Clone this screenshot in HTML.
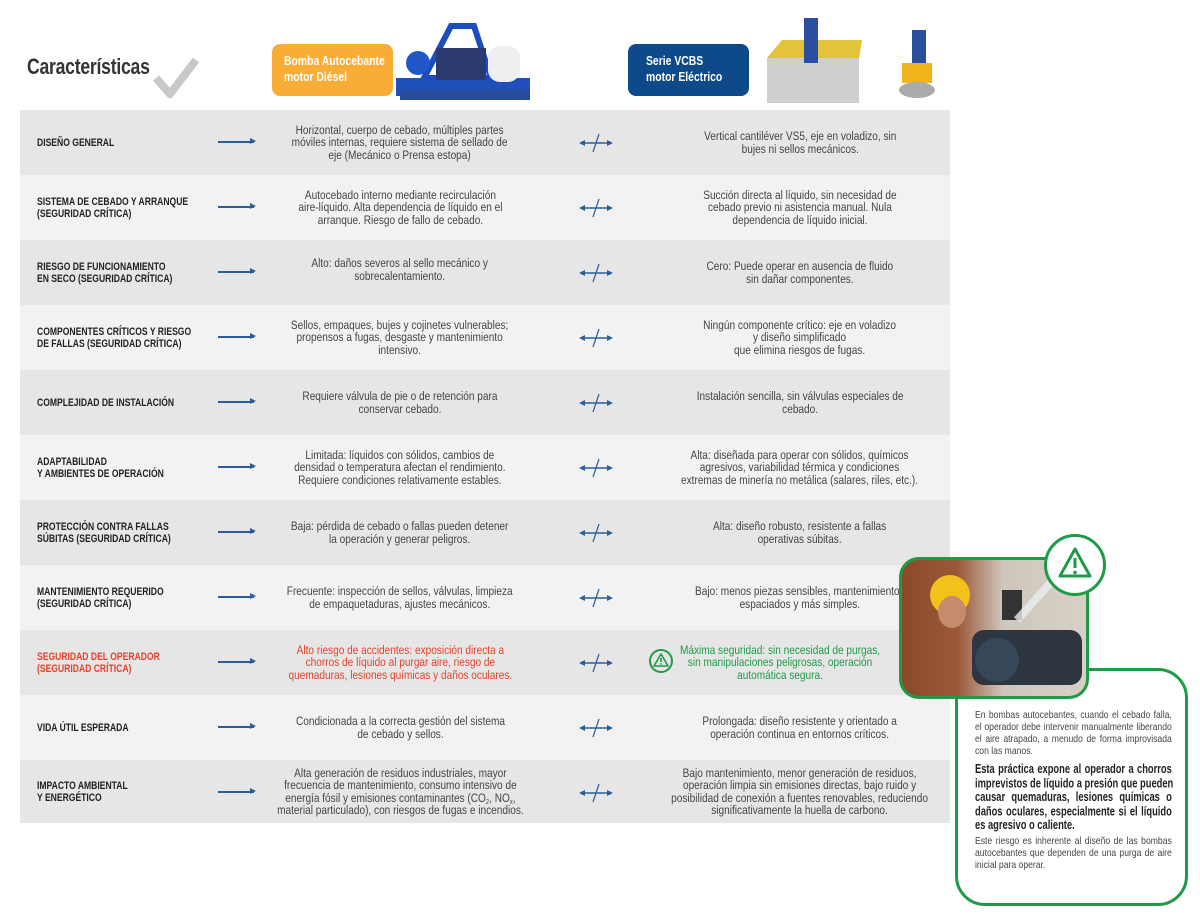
<!DOCTYPE html>
<html><head><meta charset="utf-8"><style>
*{margin:0;padding:0;box-sizing:border-box}
body{width:1200px;height:915px;background:#fff;position:relative;overflow:hidden;font-family:"Liberation Sans",sans-serif;color:#333}
.row{position:absolute;left:20px;width:930px;height:65px}
.g{background:#e6e6e6}.l{background:#f2f2f2}
.lab{position:absolute;left:17px;top:0;height:100%;display:flex;align-items:center}
.lab .t{font-size:11px;font-weight:bold;color:#222;line-height:12px;text-transform:uppercase;white-space:nowrap;transform:scaleX(.78);transform-origin:left center}
.arr{position:absolute;left:198px;top:31px;width:36px;height:1.5px;background:#2a5d9a}
.arr:after{content:"";position:absolute;right:-2px;top:-3px;border-left:6px solid #2a5d9a;border-top:3.5px solid transparent;border-bottom:3.5px solid transparent}
.c1,.c2{position:absolute;top:0;height:100%;display:flex;align-items:center;justify-content:center}
.c1 .t,.c2 .t{text-align:center;font-size:12.3px;line-height:12.5px;color:#444;white-space:nowrap;transform:scaleX(.82)}
.c1{left:255px;width:250px}.c2{left:630px;width:300px}
.ne{position:absolute;left:558px;top:22px}
.red .t,.red{color:#e0432a !important}.grn .t{color:#1f9a47 !important}
sub{font-size:7px;line-height:0;vertical-align:-2px}
.co{position:absolute;left:975px;top:709px;width:240px;transform:scaleX(.82);transform-origin:left top;color:#444}
.co .j{text-align:justify;text-align-last:justify;white-space:nowrap}
.co .n{font-size:10.5px;line-height:12px}
.co .b{font-size:11.4px;line-height:12.5px;font-weight:bold;color:#222;transform:scaleY(1.12);transform-origin:left top}
</style></head><body>

<div style="position:absolute;left:27px;top:54px;font-size:22px;font-weight:bold;color:#333;white-space:nowrap;transform:scaleX(.8);transform-origin:left top;letter-spacing:-0.3px">Características</div>
<svg style="position:absolute;left:152px;top:56px" width="48" height="42"><path d="M4 22 L18 38 L44 4" stroke="#c8c8c8" stroke-width="8" fill="none"/></svg>

<div style="position:absolute;left:272px;top:44px;width:121px;height:52px;background:#f9ad37;border-radius:8px"></div>
<div style="position:absolute;left:284px;top:53px;color:#fff;font-weight:bold;font-size:13px;line-height:16px;white-space:nowrap;transform:scaleX(.8);transform-origin:left top">Bomba Autocebante<br>motor Diésel</div>
<svg style="position:absolute;left:396px;top:18px" width="140" height="95">
<rect x="0" y="60" width="134" height="18" fill="#1f4fb8"/><rect x="4" y="72" width="130" height="10" fill="#274a9a"/>
<path d="M28 60 L55 8 L78 8 L95 60 Z" fill="none" stroke="#1d4cc0" stroke-width="6"/>
<rect x="40" y="30" width="50" height="32" fill="#2a3a70"/><rect x="92" y="28" width="32" height="36" rx="12" fill="#eee"/>
<circle cx="22" cy="45" r="12" fill="#2257c9"/></svg>

<div style="position:absolute;left:628px;top:44px;width:121px;height:52px;background:#0e4a8a;border-radius:8px"></div>
<div style="position:absolute;left:646px;top:53px;color:#fff;font-weight:bold;font-size:13px;line-height:16px;white-space:nowrap;transform:scaleX(.8);transform-origin:left top">Serie VCBS<br>motor Eléctrico</div>
<svg style="position:absolute;left:762px;top:18px" width="180" height="90">
<rect x="5" y="40" width="92" height="45" fill="#cfcfcf"/><path d="M5 40 L20 22 L100 22 L97 40 Z" fill="#e3c33a"/>
<rect x="42" y="0" width="14" height="45" fill="#2a4fa0"/>
<rect x="150" y="12" width="14" height="35" fill="#2a4fa0"/><rect x="140" y="45" width="30" height="20" fill="#f1b51c"/><ellipse cx="155" cy="72" rx="18" ry="8" fill="#aaa"/></svg>

<div class="row g" style="top:110px"><div class="lab"><div class="t">Diseño general</div></div><div class="arr"></div><div class="c1"><div class="t">Horizontal, cuerpo de cebado, múltiples partes<br>móviles internas, requiere sistema de sellado de<br>eje (Mecánico o Prensa estopa)</div></div><div class="ne"></div><div class="c2"><div class="t">Vertical cantiléver VS5, eje en voladizo, sin<br>bujes ni sellos mecánicos.</div></div></div>
<div class="row l" style="top:175px"><div class="lab"><div class="t">Sistema de cebado y arranque<br>(seguridad crítica)</div></div><div class="arr"></div><div class="c1"><div class="t">Autocebado interno mediante recirculación<br>aire-líquido. Alta dependencia de líquido en el<br>arranque. Riesgo de fallo de cebado.</div></div><div class="ne"></div><div class="c2"><div class="t">Succión directa al líquido, sin necesidad de<br>cebado previo ni asistencia manual. Nula<br>dependencia de líquido inicial.</div></div></div>
<div class="row g" style="top:240px"><div class="lab"><div class="t">Riesgo de funcionamiento<br>en seco (seguridad crítica)</div></div><div class="arr"></div><div class="c1" style="align-items:flex-start;padding-top:17px"><div class="t">Alto: daños severos al sello mecánico y<br>sobrecalentamiento.</div></div><div class="ne"></div><div class="c2"><div class="t">Cero: Puede operar en ausencia de fluido<br>sin dañar componentes.</div></div></div>
<div class="row l" style="top:305px"><div class="lab"><div class="t">Componentes críticos y riesgo<br>de fallas (seguridad crítica)</div></div><div class="arr"></div><div class="c1"><div class="t">Sellos, empaques, bujes y cojinetes vulnerables;<br>propensos a fugas, desgaste y mantenimiento<br>intensivo.</div></div><div class="ne"></div><div class="c2"><div class="t">Ningún componente crítico: eje en voladizo<br>y diseño simplificado<br>que elimina riesgos de fugas.</div></div></div>
<div class="row g" style="top:370px"><div class="lab"><div class="t">Complejidad de instalación</div></div><div class="arr"></div><div class="c1"><div class="t">Requiere válvula de pie o de retención para<br>conservar cebado.</div></div><div class="ne"></div><div class="c2"><div class="t">Instalación sencilla, sin válvulas especiales de<br>cebado.</div></div></div>
<div class="row l" style="top:435px"><div class="lab"><div class="t">Adaptabilidad<br>y ambientes de operación</div></div><div class="arr"></div><div class="c1"><div class="t">Limitada: líquidos con sólidos, cambios de<br>densidad o temperatura afectan el rendimiento.<br>Requiere condiciones relativamente estables.</div></div><div class="ne"></div><div class="c2"><div class="t">Alta: diseñada para operar con sólidos, químicos<br>agresivos, variabilidad térmica y condiciones<br>extremas de minería no metálica (salares, riles, etc.).</div></div></div>
<div class="row g" style="top:500px"><div class="lab"><div class="t">Protección contra fallas<br>súbitas (seguridad crítica)</div></div><div class="arr"></div><div class="c1"><div class="t">Baja: pérdida de cebado o fallas pueden detener<br>la operación y generar peligros.</div></div><div class="ne"></div><div class="c2"><div class="t">Alta: diseño robusto, resistente a fallas<br>operativas súbitas.</div></div></div>
<div class="row l" style="top:565px"><div class="lab"><div class="t">Mantenimiento requerido<br>(seguridad crítica)</div></div><div class="arr"></div><div class="c1"><div class="t">Frecuente: inspección de sellos, válvulas, limpieza<br>de empaquetaduras, ajustes mecánicos.</div></div><div class="ne"></div><div class="c2"><div class="t">Bajo: menos piezas sensibles, mantenimientos<br>espaciados y más simples.</div></div></div>
<div class="row g" style="top:630px"><div class="lab"><div class="t red">Seguridad del operador<br>(seguridad crítica)</div></div><div class="arr"></div><div class="c1 red"><div class="t">Alto riesgo de accidentes: exposición directa a<br>chorros de líquido al purgar aire, riesgo de<br>quemaduras, lesiones químicas y daños oculares.</div></div><div class="ne"></div>
<svg style="position:absolute;left:628px;top:18px" width="26" height="26"><circle cx="13" cy="13" r="11" fill="none" stroke="#1f9a47" stroke-width="2"/><path d="M13 6 L20 18 L6 18 Z" fill="none" stroke="#1f9a47" stroke-width="1.6" stroke-linejoin="round"/><line x1="13" y1="10" x2="13" y2="14" stroke="#1f9a47" stroke-width="1.6"/><circle cx="13" cy="16" r="0.9" fill="#1f9a47"/></svg>
<div class="c2 grn" style="left:620px;width:280px"><div class="t">Máxima seguridad: sin necesidad de purgas,<br>sin manipulaciones peligrosas, operación<br>automática segura.</div></div></div>
<div class="row l" style="top:695px"><div class="lab"><div class="t">Vida útil esperada</div></div><div class="arr"></div><div class="c1"><div class="t">Condicionada a la correcta gestión del sistema<br>de cebado y sellos.</div></div><div class="ne"></div><div class="c2"><div class="t">Prolongada: diseño resistente y orientado a<br>operación continua en entornos críticos.</div></div></div>
<div class="row g" style="top:760px;height:63px"><div class="lab"><div class="t">Impacto ambiental<br>y energético</div></div><div class="arr"></div><div class="c1"><div class="t">Alta generación de residuos industriales, mayor<br>frecuencia de mantenimiento, consumo intensivo de<br>energía fósil y emisiones contaminantes (CO<sub>2</sub>, NO<sub>x</sub>,<br>material particulado), con riesgos de fugas e incendios.</div></div><div class="ne"></div><div class="c2"><div class="t">Bajo mantenimiento, menor generación de residuos,<br>operación limpia sin emisiones directas, bajo ruido y<br>posibilidad de conexión a fuentes renovables, reduciendo<br>significativamente la huella de carbono.</div></div></div>

<!-- callout -->
<div style="position:absolute;left:955px;top:668px;width:233px;height:238px;border:3px solid #1f9a47;border-radius:30px;background:#fff"></div>
<div class="co">
<div class="n j">En bombas autocebantes, cuando el cebado falla,</div>
<div class="n j">el operador debe intervenir manualmente liberando</div>
<div class="n j">el aire atrapado, a menudo de forma improvisada</div>
<div class="n">con las manos.</div>
<div style="height:6px"></div>
<div style="height:64px"><div class="b">
<div class="j">Esta práctica expone al operador a chorros</div>
<div class="j">imprevistos de líquido a presión que pueden</div>
<div class="j">causar quemaduras, lesiones químicas o</div>
<div class="j">daños oculares, especialmente si el líquido</div>
<div>es agresivo o caliente.</div></div></div>
<div style="height:8px"></div>
<div class="n j">Este riesgo es inherente al diseño de las bombas</div>
<div class="n j">autocebantes que dependen de una purga de aire</div>
<div class="n">inicial para operar.</div>
</div>
<div style="position:absolute;left:899px;top:557px;width:190px;height:142px;border:3px solid #1f9a47;border-radius:20px;overflow:hidden;background:linear-gradient(90deg,#8a4a2a 0%,#9a5836 30%,#cfc6bb 55%,#d8d0c6 100%)">
<svg width="190" height="142"><circle cx="48" cy="35" r="20" fill="#f2c21a"/><ellipse cx="50" cy="52" rx="14" ry="16" fill="#c48c6c"/><rect x="100" y="30" width="20" height="30" fill="#333"/><rect x="70" y="70" width="110" height="55" rx="12" fill="#2c3540"/><circle cx="95" cy="100" r="22" fill="#37475a"/><path d="M115 60 L160 10" stroke="#e8eef2" stroke-width="8" opacity=".8"/></svg></div>
<div style="position:absolute;left:1044px;top:534px;width:62px;height:62px;border:3px solid #1f9a47;border-radius:50%;background:#fff"></div>
<svg style="position:absolute;left:1044px;top:534px" width="62" height="62"><path d="M31 15 L46 42 L16 42 Z" fill="none" stroke="#1f9a47" stroke-width="3" stroke-linejoin="round"/><line x1="31" y1="24" x2="31" y2="34" stroke="#1f9a47" stroke-width="3"/><circle cx="31" cy="38.5" r="1.8" fill="#1f9a47"/></svg>

<script>
document.querySelectorAll('.ne').forEach(function(e){e.innerHTML='<svg width="36" height="22"><line x1="4" y1="11" x2="32" y2="11" stroke="#2a5d9a" stroke-width="1.6"/><path d="M1 11 L7 8 L7 14 Z M35 11 L29 8 L29 14 Z" fill="#2a5d9a"/><line x1="21" y1="2" x2="15" y2="20" stroke="#2a5d9a" stroke-width="1.2"/></svg>'});
</script>
</body></html>
